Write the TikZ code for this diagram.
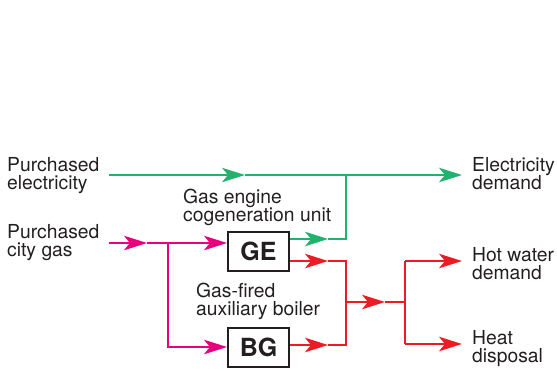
\documentclass[tikz,border=0pt]{standalone}
\usepackage{fontspec}
\setmainfont{TeX Gyre Heros}
\usetikzlibrary{arrows.meta}
\definecolor{elec}{RGB}{33,178,110}
\definecolor{gas}{RGB}{230,0,126}
\definecolor{heat}{RGB}{237,28,36}
\definecolor{txt}{RGB}{35,31,32}
\newcommand\twoline[2]{\vtop{\hbox{#1}\hbox{#2}}}
\begin{document}
\begin{tikzpicture}[x=1pt,y=-1pt,
  lbl/.style={anchor=base west, inner sep=0pt, text=txt, font=\fontsize{19.3}{18.5}\selectfont},
  unit/.style={draw=txt, fill=white, line width=2pt, minimum width=61pt, minimum height=39pt, inner sep=0pt, text=txt, font=\fontsize{25}{25}\selectfont\bfseries},
  flow/.style={line width=1.6pt},
  tip/.style={-{Stealth[length=23pt,width=14.5pt,inset=6pt]}}]
\useasboundingbox (0,0) rectangle (557,370);

% labels
\node[lbl] (pe) at (7,171) {\twoline{Purchased}{electricity}};
\node[lbl] (pg) at (7,238) {\twoline{Purchased}{city gas}};
\node[lbl] (gel) at (183,203) {\twoline{Gas engine}{cogeneration unit}};
\node[lbl] (bgl) at (196,297) {\twoline{Gas-fired}{auxiliary boiler}};
\node[lbl] (ed) at (472,171) {\twoline{Electricity}{demand}};
\node[lbl] (hw) at (472,261) {\twoline{Hot water}{demand}};
\node[lbl] (hd) at (472,344) {\twoline{Heat}{disposal}};

% units
\node[unit] (GE) at (258.5,251.5) {GE};
\node[unit] (BG) at (258.5,347) {BG};

% coordinates
\coordinate (eIn) at (109,175);
\coordinate (eA) at (245,175);
\coordinate (eJ) at (346,175);
\coordinate (eOut) at (462,175);
\coordinate (gJ) at (346,239);
\coordinate (gA) at (328,239);
\coordinate (mIn) at (109,243);
\coordinate (mA) at (147,243);
\coordinate (mJ) at (168,243);
\coordinate (mB) at (168,347);
\coordinate (rGA) at (328,261);
\coordinate (rGJ) at (346,261);
\coordinate (rBA) at (328,345);
\coordinate (rBJ) at (346,345);
\coordinate (rM) at (346,302);
\coordinate (rMA) at (385,302);
\coordinate (rS) at (405,302);
\coordinate (rS1) at (405,261);
\coordinate (rS2) at (405,344);
\coordinate (hwOut) at (462,261);
\coordinate (hdOut) at (462,344);

% electricity
\draw[flow,elec,tip] (eIn) -- (eA);
\draw[flow,elec] (eA) -- (eJ);
\draw[flow,elec,tip] (eJ) -- (eOut);
\draw[flow,elec,tip] (GE.east |- gJ) -- (gA);
\draw[flow,elec] (gA) -- (gJ) -- (eJ);

% gas
\draw[flow,gas,tip] (mIn) -- (mA);
\draw[flow,gas] (mA) -- (mJ);
\draw[flow,gas,tip] (mJ) -- (GE.west |- mJ);
\draw[flow,gas,tip] (mJ) -- (mB) -- (BG.west |- mB);

% heat
\draw[flow,heat,tip] (GE.east |- rGA) -- (rGA);
\draw[flow,heat] (rGA) -- (rGJ) -- (rM);
\draw[flow,heat,tip] (BG.east |- rBA) -- (rBA);
\draw[flow,heat] (rBA) -- (rBJ) -- (rM);
\draw[flow,heat,tip] (rM) -- (rMA);
\draw[flow,heat] (rMA) -- (rS);
\draw[flow,heat] (rS1) -- (rS2);
\draw[flow,heat,tip] (rS1) -- (hwOut);
\draw[flow,heat,tip] (rS2) -- (hdOut);

% redraw units on top
\node[unit] at (GE) {GE};
\node[unit] at (BG) {BG};
\end{tikzpicture}
\end{document}
